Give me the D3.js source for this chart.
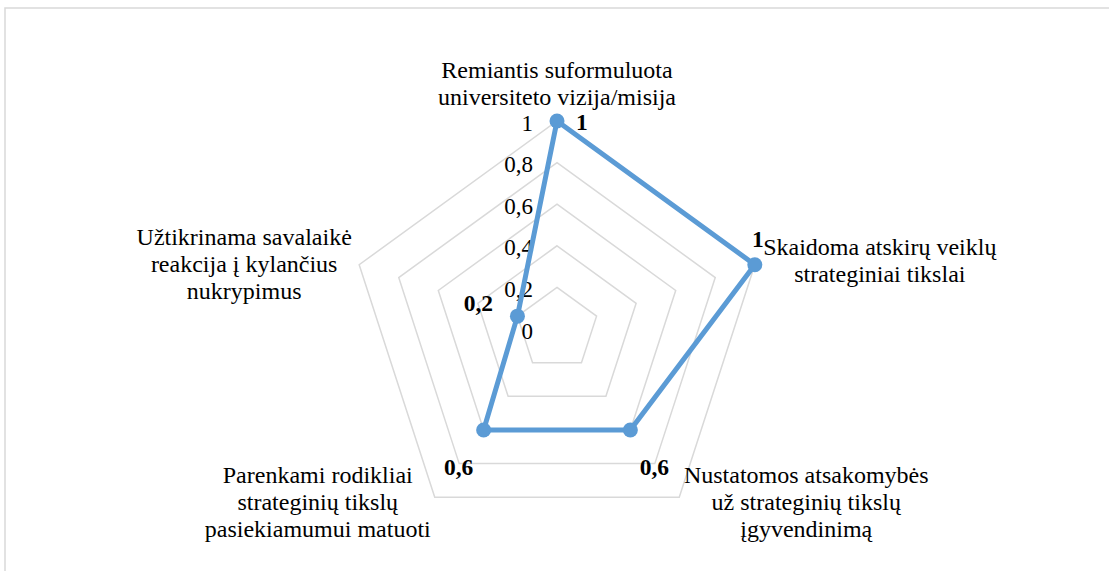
<!DOCTYPE html>
<meta charset="utf-8">
<title>Radar</title>
<style>
  body { margin: 0; background: #fff; }
</style>
<body>
<svg id="chart" width="1109" height="571" font-family="'Liberation Serif', 'Times New Roman', Tinos, 'DejaVu Serif', serif"></svg>
<script src="https://d3js.org/d3.v7.min.js"></script>
<script>

// data
var categories = [
  ["Remiantis suformuluota", "universiteto vizija/misija"],
  ["Skaidoma atskirų veiklų", "strateginiai tikslai"],
  ["Nustatomos atsakomybės", "už strateginių tikslų", "įgyvendinimą"],
  ["Parenkami rodikliai", "strateginių tikslų", "pasiekiamumui matuoti"],
  ["Užtikrinama savalaikė", "reakcija į kylančius", "nukrypimus"]
];
var values = [1, 1, 0.6, 0.6, 0.2];
var ticks = [0, 0.2, 0.4, 0.6, 0.8, 1];
var tickLabels = ["0", "0,2", "0,4", "0,6", "0,8", "1"];
var valueLabels = ["1", "1", "0,6", "0,6", "0,2"];

// layout bits (offsets from the point / outer vertex)
var valueLabelOffset = [[19, 1, "start"], [3, -26, "middle"], [24, 37, "middle"], [-25, 37, "middle"], [-39, -13, "middle"]];
var catLabelOffset = [[0, -43], [125, -10], [127, -14], [-117, -14], [-115, -20]];

var cx = 557, cy = 329, radius = 208,
    blue = "#5b9bd5", grid = "#d9d9d9";

var svg = d3.select("#chart");

// frame (right and bottom edges fall outside the picture)
svg.append("rect")
    .attr("x", 5).attr("y", 8)
    .attr("width", 1120).attr("height", 580)
    .attr("fill", "none").attr("stroke", grid).attr("stroke-width", 1.5);

var r = d3.scaleLinear().domain([0, 1]).range([0, radius]);
var angle = d3.scaleLinear().domain([0, categories.length]).range([0, 2 * Math.PI]);

function pt(i, v) {
  var a = angle(i);
  return [cx + r(v) * Math.sin(a), cy - r(v) * Math.cos(a)];
}

var g = svg.append("g");

// grid pentagons
g.selectAll("path.ring")
  .data(ticks.filter(function (t) { return t > 0; }))
  .enter().append("path")
    .attr("class", "ring")
    .attr("d", function (t) {
      return d3.line()(categories.map(function (c, i) { return pt(i, t); })) + "Z";
    })
    .attr("fill", "none")
    .attr("stroke", grid)
    .attr("stroke-width", 1.5);

// tick labels
g.selectAll("text.tick")
  .data(ticks)
  .enter().append("text")
    .attr("class", "tick")
    .attr("x", cx - 24)
    .attr("y", function (t) { return cy - r(t) + 2; })
    .attr("dominant-baseline", "central")
    .attr("text-anchor", "end")
    .style("font-size", "23px")
    .text(function (t, i) { return tickLabels[i]; });

// series line
var pts = values.map(function (v, i) { return pt(i, v); });
g.append("path")
    .attr("d", d3.line()(pts) + "Z")
    .attr("fill", "none")
    .attr("stroke", blue)
    .attr("stroke-width", 5)
    .attr("stroke-linejoin", "round");

g.selectAll("circle.dot")
  .data(pts)
  .enter().append("circle")
    .attr("class", "dot")
    .attr("cx", function (d) { return d[0]; })
    .attr("cy", function (d) { return d[1]; })
    .attr("r", 7.5)
    .attr("fill", blue);

// value labels
g.selectAll("text.val")
  .data(pts)
  .enter().append("text")
    .attr("class", "val")
    .attr("x", function (d, i) { return d[0] + valueLabelOffset[i][0]; })
    .attr("y", function (d, i) { return d[1] + valueLabelOffset[i][1]; })
    .attr("dominant-baseline", "central")
    .attr("text-anchor", function (d, i) { return valueLabelOffset[i][2]; })
    .style("font-size", "23.5px")
    .style("font-weight", "bold")
    .text(function (d, i) { return valueLabels[i]; });

// category labels
categories.forEach(function (lines, i) {
  var p = pt(i, 1);
  var t = g.append("text")
      .attr("text-anchor", "middle")
      .style("font-size", "24px");
  lines.forEach(function (line, j) {
    t.append("tspan")
      .attr("x", p[0] + catLabelOffset[i][0])
      .attr("y", p[1] + catLabelOffset[i][1] + j * 27)
      .text(line);
  });
});

</script>
</body>
